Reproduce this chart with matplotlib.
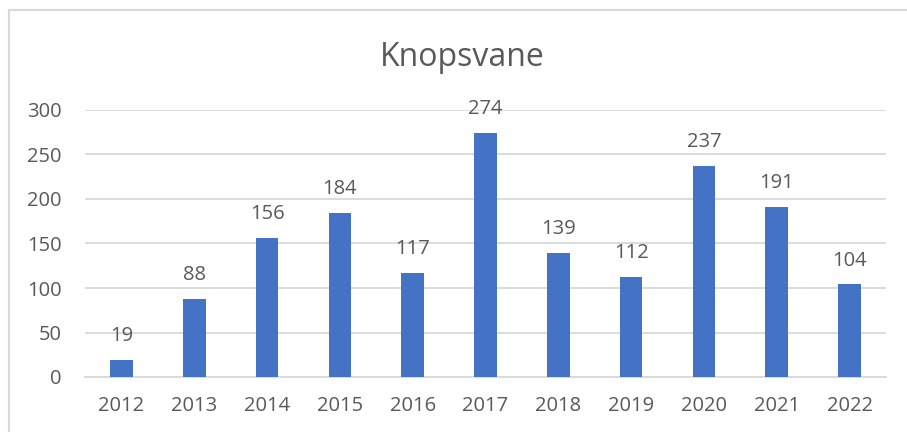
import matplotlib
matplotlib.use("Agg")
import matplotlib.pyplot as plt
from matplotlib.patches import Rectangle

years = ["2012", "2013", "2014", "2015", "2016", "2017", "2018", "2019", "2020", "2021", "2022"]
counts = [19, 88, 156, 184, 117, 274, 139, 112, 237, 191, 104]
y_ticks = [0, 50, 100, 150, 200, 250, 300]

BAR_COLOR = "#4472C4"
TEXT_COLOR = "#595959"
GRID_COLOR = "#D9D9D9"

plt.rcParams['font.family'] = ['Open Sans', 'DejaVu Sans']

fig = plt.figure(figsize=(9.07, 4.32), dpi=100)
ax = fig.add_axes([85 / 907, 55 / 432, 801 / 907, 267 / 432])

# chart border (top/left visible, right/bottom run off the image)
fig.patches.append(Rectangle((9 / 907, -0.1), 1.2, (422 / 432) + 0.1,
                             transform=fig.transFigure, fill=False,
                             edgecolor=GRID_COLOR, linewidth=1.5))

x = range(len(years))
bars = ax.bar(x, counts, width=0.31, color=BAR_COLOR, zorder=3)

for xi, v in zip(x, counts):
    ax.annotate(str(v), (xi, v), xytext=(0, 10), textcoords="offset points",
                ha="center", va="bottom", fontsize=14.5, color=TEXT_COLOR)

ax.set_xlim(-0.5, len(years) - 0.5)
ax.set_ylim(0, 300)
ax.set_yticks(y_ticks)
ax.set_xticks(list(x))
ax.set_xticklabels(years)
ax.tick_params(axis="both", length=0, labelsize=14.5, labelcolor=TEXT_COLOR)
ax.tick_params(axis="y", pad=17)
ax.tick_params(axis="x", pad=14)

ax.grid(axis="y", color=GRID_COLOR, linewidth=1.3, zorder=0)
for side in ["top", "right", "left"]:
    ax.spines[side].set_visible(False)
ax.spines["bottom"].set_color(GRID_COLOR)
ax.spines["bottom"].set_linewidth(1.3)

fig.text(462 / 907, 1 - 57 / 432, "Knopsvane", ha="center", va="center",
         fontsize=23, color=TEXT_COLOR)

fig.savefig("out.png", dpi=100)
